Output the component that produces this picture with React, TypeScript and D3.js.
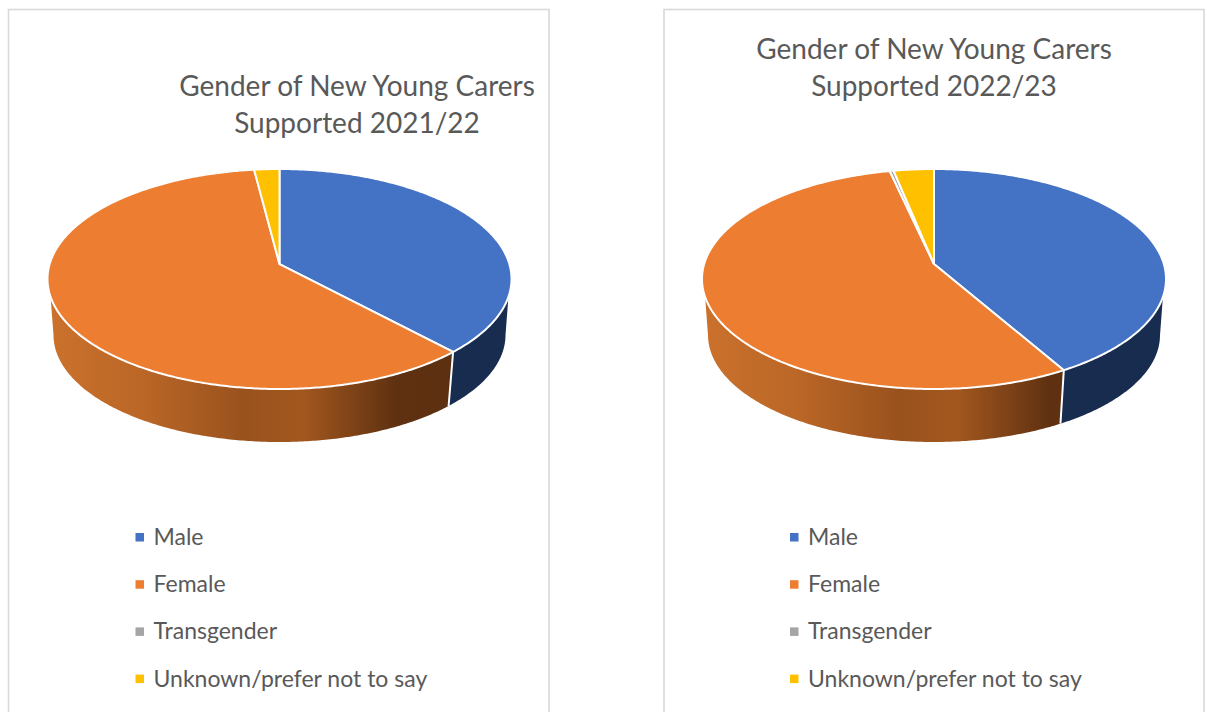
import React from "react";
import * as d3 from "d3";

// Category labels and swatch colours
const categories = ["Male", "Female", "Transgender", "Unknown/prefer not to say"];
const sliceColors = ["#4472c4", "#ed7d31", "#a5a5a5", "#ffc000"];
const wallColors = ["#182c4f", "url(#WALL)", "#63636a", "#997300"];

// Percent share per category in each reporting year
const values2122 = [38.1, 59.9, 0, 2.0];
const values2223 = [41.7, 54.8, 0.3, 3.2];

const titleLines2122 = ["Gender of New Young Carers", "Supported 2021/22"];
const titleLines2223 = ["Gender of New Young Carers", "Supported 2022/23"];

const FONT = "Lato, 'Open Sans', sans-serif";
const TEXT = "#595959";
const TAU = Math.PI * 2;

// Perspective tilt: the true disc centre sits above the middle of the drawn ellipse
const TILT = -0.136;
const project = (theta: number) => {
  const u = Math.sin(theta);
  const v = -Math.cos(theta);
  const w = 1 + TILT * v;
  return { x: (u * Math.sqrt(1 - TILT * TILT)) / w, y: (v + TILT) / w };
};

const pieLayout = d3
  .pie<number>()
  .sort(null)
  .value((d) => d);

const toPath = d3
  .line<[number, number]>()
  .x((d) => d[0])
  .y((d) => d[1]);

const sample = (a0: number, a1: number) => {
  const n = Math.max(2, Math.ceil(Math.abs(a1 - a0) / 0.01));
  return d3.range(n + 1).map((i) => a0 + ((a1 - a0) * i) / n);
};

// Angular limits of the visible side wall on the upper and lower rims
const RIM_TOP: [number, number] = [(107 / 180) * Math.PI, (253 / 180) * Math.PI];
const RIM_BOTTOM: [number, number] = [(98 / 180) * Math.PI, (262 / 180) * Math.PI];

type PieProps = {
  id: string;
  left: number;
  panelRight: number;
  cx: number;
  values: number[];
  title: string[];
  titleX: number;
  titleY: number;
};

function Pie3D({ id, left, panelRight, cx, values, title, titleX, titleY }: PieProps) {
  const rx = 232;
  const ry = 110;
  const cy = 279;
  const bx = 226;
  const by = 107;
  const bcy = 335;

  const xTop = d3.scaleLinear().domain([-1, 1]).range([cx - rx, cx + rx]);
  const yTop = d3.scaleLinear().domain([-1, 1]).range([cy - ry, cy + ry]);
  const xBot = d3.scaleLinear().domain([-1, 1]).range([cx - bx, cx + bx]);
  const yBot = d3.scaleLinear().domain([-1, 1]).range([bcy - by, bcy + by]);

  const topPt = (t: number): [number, number] => {
    const p = project(t);
    return [xTop(p.x), yTop(p.y)];
  };
  const botPt = (t: number): [number, number] => {
    const p = project(t);
    return [xBot(p.x), yBot(p.y)];
  };

  const arcs = pieLayout(values);
  const apex: [number, number] = [xTop(0), yTop(TILT)];
  const legendX = cx - 144;

  return (
    <g>
      <defs>
        <linearGradient id={`wall-${id}`} gradientUnits="userSpaceOnUse" x1={cx - rx} x2={cx + rx} y1="0" y2="0">
          <stop offset="0" stopColor="#cb712c" />
          <stop offset="0.2" stopColor="#bb6727" />
          <stop offset="0.42" stopColor="#9a521d" />
          <stop offset="0.55" stopColor="#a2571e" />
          <stop offset="0.75" stopColor="#5f3111" />
          <stop offset="1" stopColor="#5a2e10" />
        </linearGradient>
      </defs>

      <rect x={left} y={9.5} width={panelRight - left} height={720} fill="#fff" stroke="#d9d9d9" strokeWidth={1.6} />

      {title.map((line, i) => (
        <text key={line} x={titleX} y={titleY + i * 37} textAnchor="middle" fontFamily={FONT} fontSize={28} fill={TEXT}>
          {line}
        </text>
      ))}

      {arcs.map((a, i) => {
        const tA = Math.max(a.startAngle, RIM_TOP[0]);
        const tB = Math.min(a.endAngle, RIM_TOP[1]);
        if (tB <= tA) return null;
        const bA = a.startAngle <= RIM_TOP[0] ? RIM_BOTTOM[0] : a.startAngle;
        const bB = a.endAngle >= RIM_TOP[1] ? RIM_BOTTOM[1] : a.endAngle;
        const pts = [...sample(tA, tB).map(topPt), ...sample(bB, bA).map(botPt)];
        return <path key={categories[i]} d={`${toPath(pts)}Z`} fill={wallColors[i].replace("WALL", `wall-${id}`)} />;
      })}

      {arcs.map((a, i) => {
        const t = a.endAngle;
        if (t <= RIM_TOP[0] || t >= RIM_TOP[1]) return null;
        return (
          <path key={categories[i]} d={toPath([topPt(t), botPt(t)]) ?? ""} stroke="#fff" strokeWidth={2} fill="none" />
        );
      })}

      {arcs.map((a, i) =>
        a.endAngle - a.startAngle > 0 ? (
          <path
            key={categories[i]}
            d={`${toPath([apex, ...sample(a.startAngle, a.endAngle).map(topPt)])}Z`}
            fill={sliceColors[i]}
            stroke="#fff"
            strokeWidth={2}
            strokeLinejoin="round"
          />
        ) : null
      )}

      {categories.map((c, i) => (
        <g key={c}>
          <rect x={legendX} y={533 + i * 47.2} width={8.5} height={8.5} fill={sliceColors[i]} />
          <text x={legendX + 18} y={545 + i * 47.2} fontFamily={FONT} fontSize={23} fill={TEXT}>
            {c}
          </text>
        </g>
      ))}
    </g>
  );
}

export default function App() {
  return (
    <svg
      width={1207}
      height={712}
      viewBox="0 0 1207 712"
      style={{ position: "absolute", left: 0, top: 0, display: "block", background: "#fff" }}
    >
      <Pie3D id="a" left={8.5} panelRight={549} cx={279.5} values={values2122} title={titleLines2122} titleX={357} titleY={96} />
      <Pie3D id="b" left={664} panelRight={1204} cx={934} values={values2223} title={titleLines2223} titleX={934} titleY={59} />
    </svg>
  );
}
